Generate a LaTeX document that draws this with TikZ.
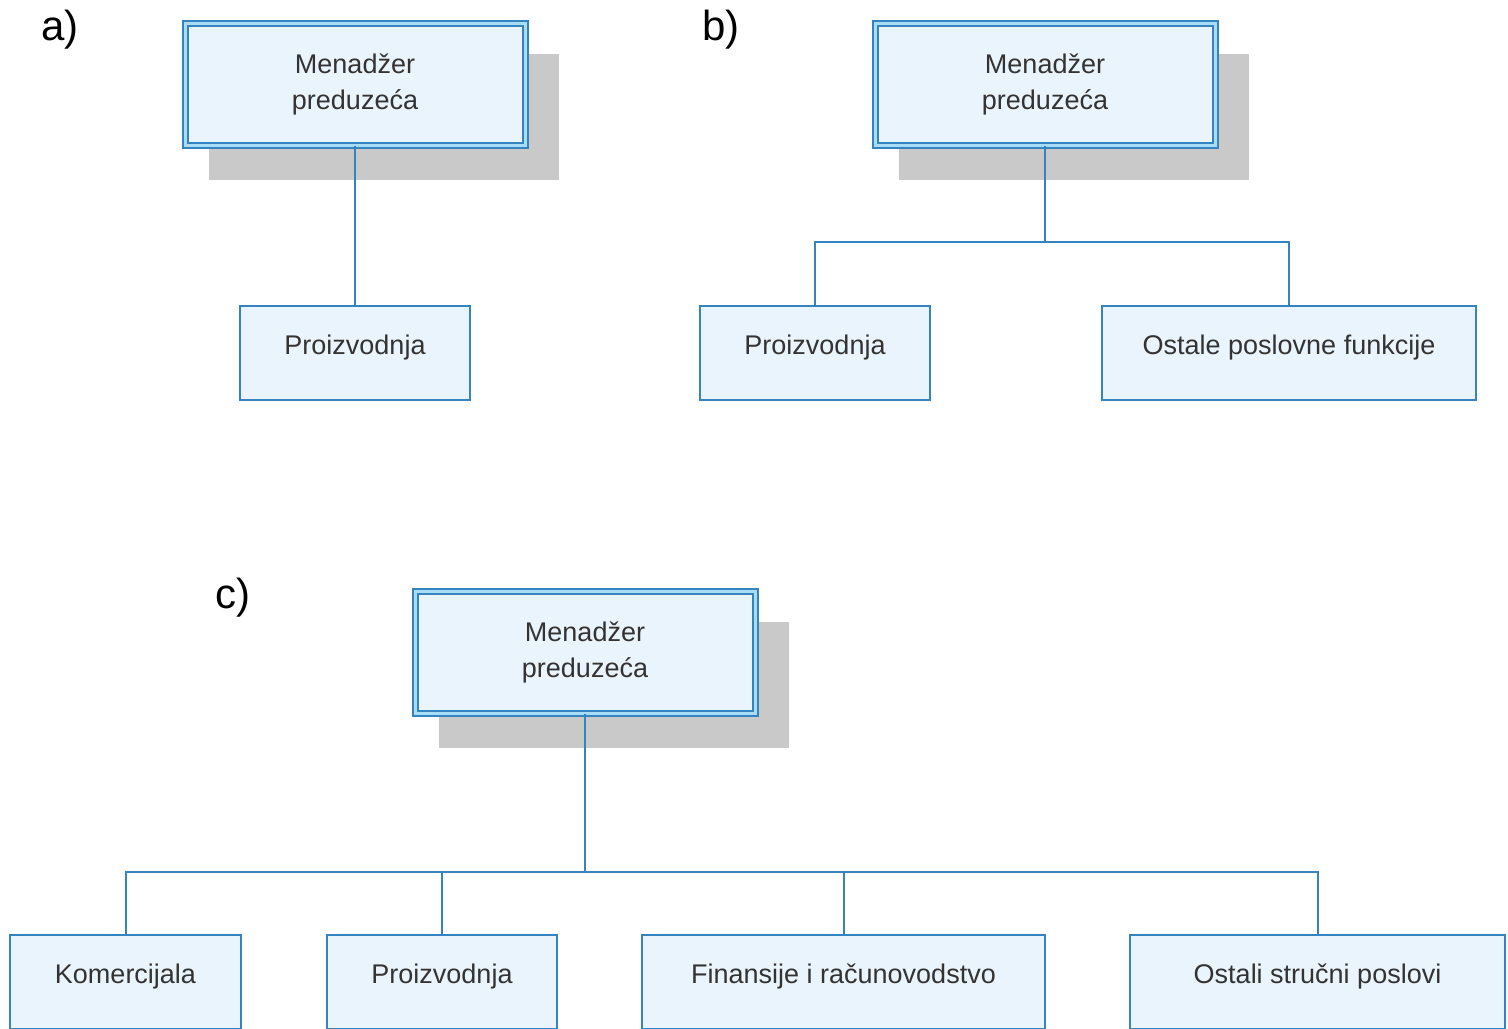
\documentclass[tikz,border=0pt]{standalone}
\usepackage{fontspec}
\setmainfont{Liberation Sans}
\usetikzlibrary{shadows}
\definecolor{linija}{HTML}{3584C2}
\definecolor{okvir}{HTML}{A9DDF5}
\definecolor{ispuna}{HTML}{EAF4FC}
\definecolor{senka}{HTML}{C9C9C9}
\definecolor{tekst}{HTML}{333333}
\begin{document}
\begin{tikzpicture}[x=0.5pt, y=-0.5pt,
	every node/.style={font=\fontsize{13.5}{18}\selectfont, text=tekst},
	menadzer/.style={draw=linija, line width=1pt, double=okvir, double distance=1.5pt, fill=ispuna, minimum width=170pt, minimum height=61pt, inner sep=0pt, align=center, drop shadow={shadow xshift=14pt, shadow yshift=-16pt, shadow scale=1.03, fill=senka, opacity=1}},
	odjel/.style={draw=linija, line width=1pt, fill=ispuna, minimum height=47pt, inner sep=0pt, text depth=8pt, align=center},
	oznaka/.style={font=\fontsize{21}{25}\selectfont, text=black},
	veza/.style={draw=linija, line width=1pt}]
	\clip (0,0) rectangle (1508,1028);
	% a)
	\node[oznaka] (oznA) at (60,30) {a)};
	\node[menadzer] (menA) at (355,84) {Menadžer\\preduzeća};
	\node[odjel, minimum width=115pt] (proA) at (355,353) {Proizvodnja};
	\draw[veza] (menA) -- (proA);
	% b)
	\node[oznaka] (oznB) at (721,30) {b)};
	\node[menadzer] (menB) at (1045,84) {Menadžer\\preduzeća};
	\node[odjel, minimum width=115pt] (proB) at (815,353) {Proizvodnja};
	\node[odjel, minimum width=187pt] (ostB) at (1289,353) {Ostale poslovne funkcije};
	\coordinate (busB) at (1045,242);
	\draw[veza] (menB) -- (busB);
	\draw[veza] (proB.north) |- (busB) -| (ostB.north);
	% c)
	\node[oznaka] (oznC) at (233,598) {c)};
	\node[menadzer] (menC) at (585,652) {Menadžer\\preduzeća};
	\node[odjel, minimum width=115.5pt] (komC) at (125.5,982) {Komercijala};
	\node[odjel, minimum width=115pt] (proC) at (442,982) {Proizvodnja};
	\node[odjel, minimum width=201.5pt] (finC) at (843.5,982) {Finansije i računovodstvo};
	\node[odjel, minimum width=187.5pt] (ostC) at (1317.5,982) {Ostali stručni poslovi};
	\coordinate (busC) at (585,872);
	\draw[veza] (menC) -- (busC);
	\draw[veza] (komC.north) |- (busC) -| (ostC.north);
	\draw[veza] (proC.north) -- (proC.north |- busC);
	\draw[veza] (finC.north) -- (finC.north |- busC);
\end{tikzpicture}
\end{document}
